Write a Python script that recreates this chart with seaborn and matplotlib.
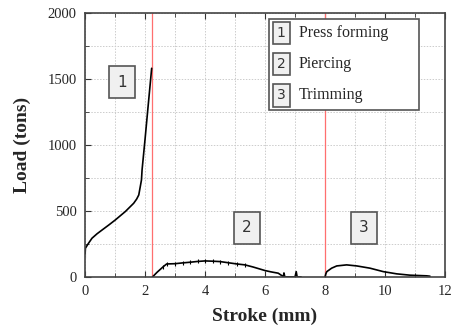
import numpy as np
import pandas as pd
import matplotlib
matplotlib.use('Agg')
import matplotlib.pyplot as plt
import seaborn as sns

# stage 1: press forming
stroke_1 = [0.0, 0.0, 0.01, 0.1, 0.23, 0.4, 0.57, 0.8, 1.01, 1.34, 1.62, 1.72, 1.79, 1.84, 1.88, 1.9, 2.0, 2.1, 2.22]
load_1 = [140, 210, 217, 250, 293, 327, 356, 395, 432, 495, 558, 590, 621, 684, 735, 811, 1045, 1290, 1581]

# stage 2: piercing
stroke_2 = [2.25, 2.4, 2.61, 2.72, 3.0, 3.25, 3.5, 3.75, 4.0, 4.25, 4.5, 4.75, 5.06, 5.33, 5.6, 6.0, 6.2, 6.44, 6.61, 6.63, 6.66, 6.7, 7.0, 7.04, 7.07, 7.1, 7.2]
load_2 = [0, 35, 78, 98, 100, 106, 111, 117, 121, 119, 116, 108, 98, 91, 75, 48, 38, 28, 2, 30, 0, 0, 0, 40, 0, 0, 0]

# stage 3: trimming
stroke_3 = [8.0, 8.03, 8.06, 8.22, 8.39, 8.72, 9.06, 9.5, 9.94, 10.39, 10.83, 11.39, 11.5]
load_3 = [0, 25, 40, 66, 83, 91, 83, 66, 40, 23, 13, 8, 5]

stage_lines = [2.23, 8.0]
box_labels = ['1', '2', '3']
box_x = [1.23, 5.4, 9.3]
box_y = [1477, 371, 371]
legend_names = ['Press forming', 'Piercing', 'Trimming']

sns.set_style('ticks')
plt.rcParams['font.family'] = ['Liberation Serif', 'DejaVu Serif']

fig = plt.figure(figsize=(4.55, 3.34), dpi=100)
ax = fig.add_axes([0.187, 0.171, 0.791, 0.790])

for s, l in [(stroke_1, load_1), (stroke_2, load_2), (stroke_3, load_3)]:
    df = pd.DataFrame({'stroke': s, 'load': l})
    sns.lineplot(data=df, x='stroke', y='load', sort=False, color='black', linewidth=1.2, ax=ax)

# small scatter ticks along the piercing curve
ax.plot(stroke_2[2:14], load_2[2:14], linestyle='none', marker='|', markersize=3, color='black', markeredgewidth=0.8)

for xv in stage_lines:
    ax.axvline(xv, color='#ff6f6f', linewidth=0.9, zorder=1)

ax.set_xlim(0, 12)
ax.set_ylim(0, 2000)
ax.set_xticks(np.arange(0, 13, 2))
ax.set_yticks(np.arange(0, 2001, 500))
ax.set_xticks(np.arange(1, 12, 2), minor=True)
ax.set_yticks(np.arange(250, 2000, 500), minor=True)
ax.grid(True, which='both', linestyle=(0, (1.5, 1.5)), color='#cccccc', linewidth=0.7)
ax.set_axisbelow(True)
ax.tick_params(which='both', direction='in', top=True, right=False, labelsize=10.5, color='#333333')
ax.tick_params(which='major', length=4, pad=6)
ax.tick_params(which='minor', length=3)
for sp in ax.spines.values():
    sp.set_color('#444444')
    sp.set_linewidth(1.2)

ax.set_xlabel('Stroke (mm)', fontsize=14, fontweight='bold', labelpad=7)
ax.set_ylabel('Load (tons)', fontsize=14, fontweight='bold', labelpad=12)

for t, x, y in zip(box_labels, box_x, box_y):
    ax.text(x, y, t, ha='center', va='center', fontsize=11, family='DejaVu Sans', color='#333333',
            bbox=dict(boxstyle='square,pad=0.55', facecolor='#f0f0f0', edgecolor='#555555', linewidth=1.2))

# legend drawn by hand
ax.add_patch(plt.Rectangle((0.511, 0.633), 0.417, 0.344, transform=ax.transAxes,
                           facecolor='white', edgecolor='#555555', linewidth=1.2, zorder=3))
for i, (t, name) in enumerate(zip(box_labels, legend_names)):
    yy = 0.924 - i * 0.118
    ax.text(0.545, yy, t, transform=ax.transAxes, ha='center', va='center', fontsize=10,
            family='DejaVu Sans', color='#333333', zorder=4,
            bbox=dict(boxstyle='square,pad=0.3', facecolor='#f0f0f0', edgecolor='#555555', linewidth=1.2))
    ax.text(0.594, yy, name, transform=ax.transAxes, ha='left', va='center', fontsize=11.5, zorder=4)

plt.savefig('out.png', dpi=100)
